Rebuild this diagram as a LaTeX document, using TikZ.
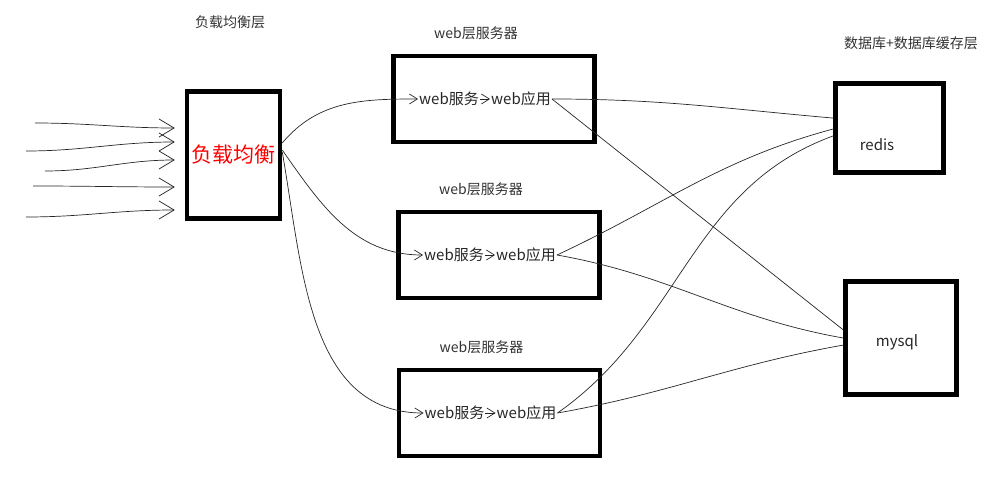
\documentclass[tikz,border=0pt]{standalone}
\usepackage{fontspec}
\setmainfont{Noto Sans CJK SC}
\usetikzlibrary{arrows,arrows.meta,positioning}
\tikzstyle{box} = [draw=black, line width=4.5pt, rectangle, inner sep=0pt]
\tikzstyle{layertitle} = [text=black!80, inner sep=1pt, font=\fontsize{14}{16}\selectfont]
\tikzstyle{svc} = [text=black!85, inner sep=1pt, font=\fontsize{15}{18}\selectfont]
\tikzstyle{wire} = [draw=black!85, line width=0.7pt]
\tikzstyle{handarrow} = [wire, -{Straight Barb[length=8pt,width=10pt]}]
\tikzstyle{bigarrow} = [wire, -{Straight Barb[length=15pt,width=18pt]}]

\begin{document}
\begin{tikzpicture}[x=1pt,y=-1pt]
\useasboundingbox (0,0) rectangle (998,481);
% load balancing layer
\node [box, minimum width=93pt, minimum height=127pt, text=red, font=\fontsize{21}{24}\selectfont] (lb) at (233.5,155) {负载均衡};
\node [layertitle] (lbtitle) at (230,22) {负载均衡层};
\foreach \xa/\ya/\dy [count=\i] in {35/123/-27,26/151/-13,45/171/5,33/186/32,26/217/55}{
  \coordinate (src\i) at (\xa,\ya);
  \draw [bigarrow] (src\i) to[out=0,in=180] ([shift={(-10,\dy)}]lb.west);
}
% web layer
\foreach \n/\x/\y in {1/494/99,2/499/255,3/499.5/413}{
  \node [box, minimum width=201pt, minimum height=86pt] (web\n) at (\x,\y) {};
  \node [layertitle] (webtitle\n) at (\x-18,\y-66) {web层服务器};
  \node [svc] (serv\n) at (\x-45,\y) {web服务};
  \node [svc] (app\n) at (\x+27,\y) {web应用};
  \draw [handarrow] (serv\n) -- (app\n);
}
\draw [handarrow] ([shift={(0,-12)}]lb.east) to[out=50,in=180] (serv1.west);
\draw [handarrow] ([shift={(0,-5)}]lb.east) to[out=-55,in=180] (serv2.west);
\draw [handarrow] ([shift={(0,-3)}]lb.east) to[out=-80,in=180] (serv3.west);
% database + cache layer
\node [box, minimum width=108pt, minimum height=89pt] (redis) at (889.5,128) {};
\node [svc] (redistext) at (877,145) {redis};
\node [box, minimum width=111pt, minimum height=113pt] (mysql) at (901,338) {};
\node [svc] (mysqltext) at (897,342) {mysql};
\node [layertitle] (dbtitle) at (911,43) {数据库+数据库缓存层};
\draw [wire] (app1.east) to[out=0,in=175] (redis.170);
\draw [wire] (app1.east) -- (mysql.172);
\draw [wire] (app2.east) to[out=25,in=195] (redis.181);
\draw [wire] (app2.east) to[out=-10,in=170] (mysql.180);
\draw [wire] (app3.east) to[out=35,in=200] (redis.188);
\draw [wire] (app3.east) to[out=10,in=190] (mysql.187);
\end{tikzpicture}
\end{document}
